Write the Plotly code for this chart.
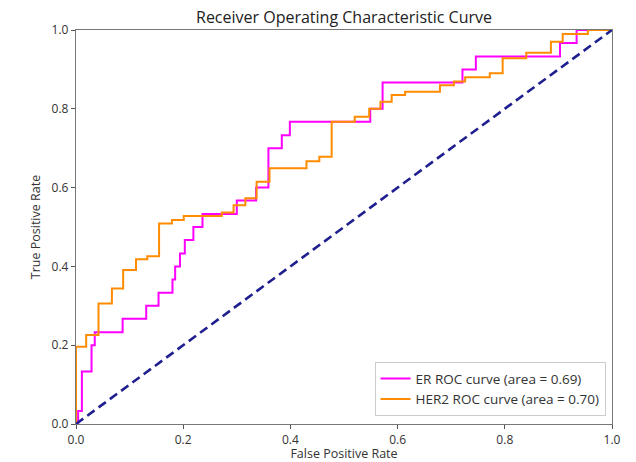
import plotly.graph_objects as go

# ROC corner points (false positive rate, true positive rate)
er_fpr = [0.0, 0.004, 0.011, 0.029, 0.035, 0.087, 0.131, 0.154, 0.180, 0.185, 0.194,
          0.203, 0.219, 0.236, 0.300, 0.336, 0.359, 0.384, 0.399, 0.549, 0.572,
          0.721, 0.746, 0.903, 0.934, 1.0]
er_tpr = [0.0, 0.033, 0.133, 0.200, 0.233, 0.267, 0.300, 0.333, 0.367, 0.400, 0.433,
          0.467, 0.500, 0.533, 0.567, 0.600, 0.700, 0.733, 0.767, 0.800, 0.867,
          0.900, 0.933, 0.967, 1.0, 1.0]
er_auc = 0.69

her2_fpr = [0.0, 0.0, 0.019, 0.042, 0.067, 0.088, 0.112, 0.133, 0.155, 0.179, 0.201,
            0.272, 0.294, 0.316, 0.337, 0.361, 0.430, 0.454, 0.477, 0.520, 0.547,
            0.568, 0.589, 0.614, 0.679, 0.705, 0.726, 0.772, 0.796, 0.840, 0.886,
            0.908, 0.955, 1.0]
her2_tpr = [0.0, 0.196, 0.226, 0.306, 0.344, 0.391, 0.418, 0.426, 0.509, 0.518, 0.528,
            0.537, 0.555, 0.573, 0.615, 0.649, 0.667, 0.678, 0.767, 0.780, 0.800,
            0.818, 0.835, 0.843, 0.860, 0.869, 0.880, 0.890, 0.928, 0.942, 0.970,
            0.990, 1.0, 1.0]
her2_auc = 0.70

chance = [0.0, 1.0]
ticks = [0.0, 0.2, 0.4, 0.6, 0.8, 1.0]

FONT = "Open Sans"
TEXT = "#333333"

fig = go.Figure()
fig.add_trace(go.Scatter(
    x=er_fpr, y=er_tpr, mode="lines", line_shape="hv",
    line=dict(color="#ff00ff", width=2),
    name=f"ER ROC curve (area = {er_auc:.2f})"))
fig.add_trace(go.Scatter(
    x=her2_fpr, y=her2_tpr, mode="lines", line_shape="hv",
    line=dict(color="#ff8c00", width=2),
    name=f"HER2 ROC curve (area = {her2_auc:.2f})"))
fig.add_trace(go.Scatter(
    x=chance, y=chance, mode="lines",
    line=dict(color="#1f1f8f", width=2.6, dash="9px,5px"),
    showlegend=False))

axis_common = dict(
    range=[0, 1.0], tickvals=ticks, tickformat=".1f",
    showgrid=False, zeroline=False, automargin=False,
    showline=True, mirror=True, linecolor="#777777", linewidth=1.4,
    ticks="outside", ticklen=4, tickcolor="#555555",
    tickfont=dict(family=FONT, size=12, color=TEXT),
)

fig.update_layout(
    width=636, height=462,
    margin=dict(l=76, r=24, t=30, b=38),
    paper_bgcolor="white", plot_bgcolor="white",
    title=dict(text="Receiver Operating Characteristic Curve",
               x=(76 + 612) / 2 / 636, xanchor="center", y=0.963, yanchor="middle",
               font=dict(family=FONT, size=16, color="#222222")),
    xaxis=dict(axis_common,
               title=dict(text="False Positive Rate", standoff=2,
                          font=dict(family=FONT, size=12.5, color=TEXT))),
    yaxis=dict(axis_common,
               title=dict(text="True Positive Rate", standoff=8,
                          font=dict(family=FONT, size=12.5, color=TEXT))),
    legend=dict(x=0.988, y=0.02, xanchor="right", yanchor="bottom",
                bgcolor="rgba(255,255,255,0.9)", bordercolor="#cccccc", borderwidth=1,
                font=dict(family=FONT, size=13.5, color=TEXT),
                itemwidth=30, tracegroupgap=0),
    showlegend=True,
)

fig.write_html("out.html")
